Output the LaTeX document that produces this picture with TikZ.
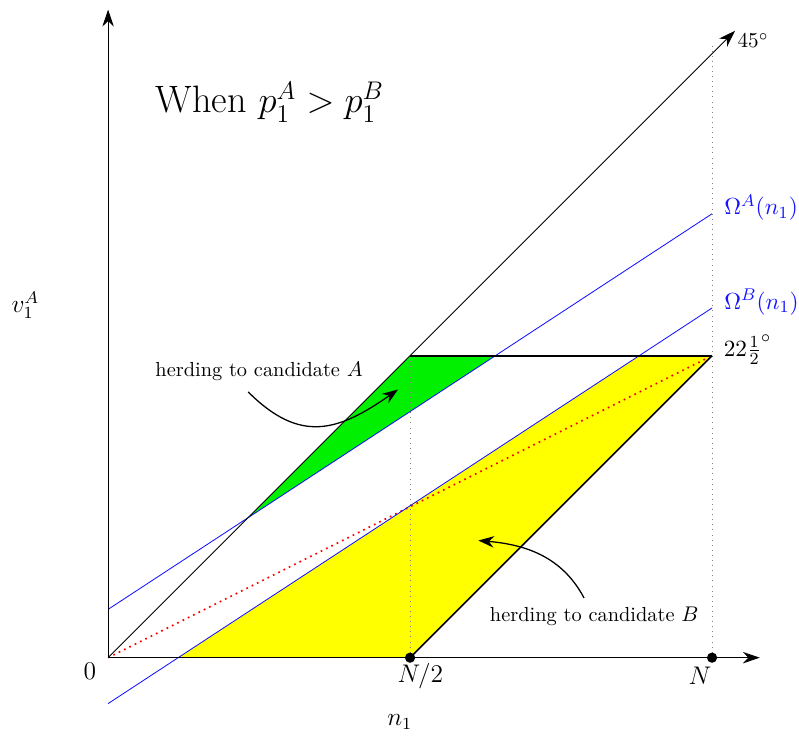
\documentclass[tikz,border=0pt]{standalone}
\usepackage{amsmath, amssymb}
\usetikzlibrary{arrows.meta, positioning, calc}
\definecolor{herdgreen}{RGB}{0, 240, 0}
\definecolor{herdyellow}{RGB}{255, 255, 0}
\definecolor{omegablue}{RGB}{20, 20, 255}
\tikzset{
  >=Stealth,
  axisline/.style={-{Stealth[length=2.8mm, width=1.9mm]}, thin},
  omegaline/.style={omegablue, thin},
  guideline/.style={dotted, gray},
  edgeline/.style={thick, line join=round},
  herdarrow/.style={-{Stealth[length=2.6mm, width=1.9mm]}, semithick},
  herdnote/.style={font=\fontsize{9.6}{12}\selectfont},
  dotmark/.style={circle, fill, inner sep=0pt, minimum size=1.7mm}
}

\begin{document}
\begin{tikzpicture}
    \useasboundingbox (-1.79,-1.36) rectangle (11.44,10.89);
    \coordinate (O) at (0,0);
    \coordinate (half) at (5,0);
    \coordinate (full) at (10,0);
    \coordinate (peak) at (5,5);
    \coordinate (corner) at (10,5);
    % herding regions
    \fill[herdgreen] (2.319,2.319) -- (peak) -- (6.412,5) -- cycle;
    \fill[herdyellow] (1.160,0) -- (half) -- (corner) -- (8.794,5) -- cycle;
    % guides
    \draw[guideline] (half) -- (peak);
    \draw[guideline] (full) -- (10,10.15);
    \draw[red, dotted, thick] (O) -- (corner);
    % Omega lines
    \draw[omegaline] (0,0.80) -- (10,7.35);
    \draw[omegaline] (0,-0.76) -- (10,5.79);
    % axes and 45 degree line
    \draw[axisline] (O) -- (0,10.73);
    \draw[axisline] (O) -- (10.79,0);
    \draw[axisline] (O) -- (10.38,10.38) node (deg45) [anchor=north west, inner sep=1pt] {$45^\circ$};
    \draw[edgeline] (peak) -- (corner);
    \draw[edgeline] (half) -- (corner);
    \node (halfdot) [dotmark] at (half) {};
    \node (fulldot) [dotmark] at (full) {};
    % labels
    \node (zero) at (-0.30,-0.23) {\large $0$};
    \node (halflbl) at (5.17,-0.30) {\large $N/2$};
    \node (fulllbl) at (9.80,-0.30) {\large $N$};
    \node (xlbl) at (4.83,-1.06) {\large $n_1$};
    \node (ylbl) at (-1.37,5.84) {\large $v_1^A$};
    \node (omegaA) [anchor=west, omegablue, font=\fontsize{11.2}{13}\selectfont] at (10.08,7.45) {$\Omega^A(n_1)$};
    \node (omegaB) [anchor=west, omegablue, font=\fontsize{11.2}{13}\selectfont] at (10.08,5.89) {$\Omega^B(n_1)$};
    \node (deg22) [anchor=west, font=\fontsize{10.8}{13}\selectfont] at (10.07,5.10) {$22\frac{1}{2}^\circ$};
    \node (title) at (2.68,9.20) {\fontsize{18}{22}\selectfont When $p_1^A > p_1^B$};
    % herding notes
    \node (herdA) [herdnote] at (2.50,4.74) {herding to candidate $A$};
    \node (herdB) [herdnote] at (8.05,0.68) {herding to candidate $B$};
    \coordinate (herdAstart) at (2.32,4.40);
    \coordinate (herdAend) at (4.80,4.44);
    \coordinate (herdBstart) at (7.88,0.99);
    \coordinate (herdBend) at (6.13,1.94);
    \draw[herdarrow] (herdAstart) to[out=-45, in=-145, looseness=1.25] (herdAend);
    \draw[herdarrow] (herdBstart) to[out=118, in=-5] (herdBend);
\end{tikzpicture}
\end{document}
